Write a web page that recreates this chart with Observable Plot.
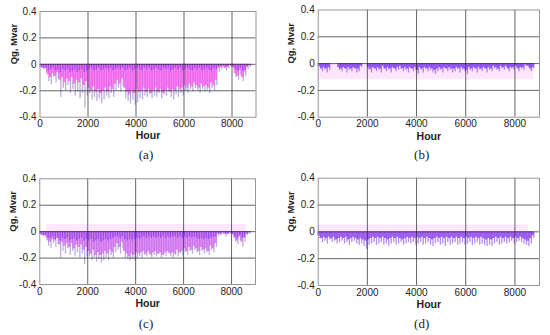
<!DOCTYPE html>
<html><head><meta charset="utf-8">
<script src="https://cdn.jsdelivr.net/npm/d3@7"></script>
<script src="https://cdn.jsdelivr.net/npm/@observablehq/plot@0.6"></script>
<style>
body{margin:0;background:#fff}
#wrap{position:relative;width:550px;height:335px;overflow:hidden;background:#fff}
.panel{position:absolute}
.cap{position:absolute;font-family:"Liberation Serif","DejaVu Serif",serif;font-size:13px;color:#222;transform:translate(-50%,-50%);white-space:nowrap}
</style></head><body><div id="wrap"></div>
<script>
// ---- tick labels / categories ----
const hourTicks = [0, 2000, 4000, 6000, 8000];
const qTicks = [-0.4, -0.2, 0, 0.2, 0.4];
const panelLabels = ["(a)", "(b)", "(c)", "(d)"];
const xLabel = "Hour";
const yLabel = "Qg, Mvar";

// ---- series values: Qg (Mvar) per 100-hour block ----
const A_deep = [-0.03,-0.04,-0.06,-0.13,-0.15,-0.10,-0.14,-0.11,-0.25,-0.18,
 -0.20,-0.16,-0.22,-0.19,-0.24,-0.21,-0.26,-0.22,-0.33,-0.24,
 -0.22,-0.27,-0.25,-0.28,-0.26,-0.30,-0.27,-0.24,-0.26,-0.22,
 -0.25,-0.20,-0.18,-0.21,-0.17,-0.26,-0.28,-0.30,-0.27,-0.31,
 -0.29,-0.26,-0.27,-0.24,-0.25,-0.23,-0.26,-0.24,-0.25,-0.22,
 -0.26,-0.23,-0.24,-0.21,-0.25,-0.27,-0.23,-0.25,-0.22,-0.24,
 -0.20,-0.22,-0.19,-0.21,-0.18,-0.20,-0.22,-0.19,-0.21,-0.20,
 -0.22,-0.18,-0.20,-0.16,-0.06,-0.04,-0.03,-0.05,-0.03,-0.02,
 -0.03,-0.10,-0.12,-0.08,-0.13,-0.09,-0.04,-0.02];
const A_body = [-0.02,-0.03,-0.03,-0.08,-0.10,-0.07,-0.09,-0.06,
 -0.12,-0.10,-0.14,-0.11,-0.13,-0.10,-0.15,-0.12,-0.14,-0.11,-0.16,-0.13,
 -0.18,-0.20,-0.17,-0.21,-0.19,-0.22,-0.20,-0.18,-0.21,-0.17,-0.19,-0.15,
 -0.12,-0.15,-0.11,
 -0.18,-0.21,-0.23,-0.20,-0.22,-0.19,-0.21,-0.20,-0.18,-0.21,-0.19,-0.22,-0.20,-0.18,-0.21,-0.19,-0.22,-0.20,-0.18,-0.21,-0.19,-0.20,-0.17,-0.19,-0.18,
 -0.16,-0.18,-0.15,-0.17,-0.14,-0.16,-0.18,-0.15,-0.17,-0.16,-0.18,-0.14,-0.16,-0.12,
 -0.03,-0.02,-0.02,-0.03,-0.02,-0.01,-0.02,
 -0.07,-0.09,-0.05,-0.10,-0.06,-0.02,-0.01];
const A_top = [-0.02,-0.03,-0.03,-0.05,-0.04,-0.03,-0.05,-0.04,-0.06,-0.04,
 -0.05,-0.04,-0.06,-0.05,-0.04,-0.06,-0.05,-0.04,-0.06,-0.05,
 -0.04,-0.03,-0.05,-0.04,-0.03,-0.05,-0.04,-0.03,-0.04,-0.03,
 -0.05,-0.04,-0.03,-0.04,-0.03,-0.05,-0.04,-0.03,-0.05,-0.04,
 -0.03,-0.04,-0.05,-0.03,-0.04,-0.03,-0.05,-0.04,-0.03,-0.04,
 -0.05,-0.03,-0.04,-0.03,-0.05,-0.04,-0.03,-0.04,-0.03,-0.05,
 -0.04,-0.03,-0.04,-0.05,-0.03,-0.04,-0.03,-0.05,-0.04,-0.03,
 -0.04,-0.05,-0.03,-0.04,-0.02,-0.02,-0.01,-0.02,-0.02,-0.01,
 -0.02,-0.04,-0.05,-0.03,-0.05,-0.04,-0.02,-0.01];

const B_deep = [-0.03,-0.06,-0.05,-0.07,-0.05,0,0,0,-0.05,-0.06,
 -0.04,-0.07,-0.05,-0.06,-0.04,-0.07,-0.06,-0.03,0,0,
 -0.05,-0.07,-0.04,-0.06,-0.05,-0.07,-0.04,-0.06,-0.05,-0.07,
 -0.04,-0.06,-0.05,-0.04,-0.06,-0.05,-0.07,-0.04,-0.06,-0.05,
 -0.08,-0.05,-0.07,-0.04,-0.06,-0.05,-0.07,-0.08,-0.06,-0.05,
 -0.07,-0.04,-0.06,-0.05,-0.07,-0.06,-0.04,-0.07,-0.05,-0.06,
 -0.08,-0.05,-0.06,-0.04,-0.07,-0.05,-0.06,-0.04,-0.07,-0.05,
 -0.06,-0.04,-0.05,-0.06,-0.04,-0.05,-0.03,-0.06,-0.04,-0.05,
 -0.03,-0.06,-0.04,-0.05,-0.02,-0.03,-0.06,-0.04];
const B_body = [-0.02,-0.04,-0.03,-0.04,-0.03,0,0,0,
 -0.03,-0.04,-0.03,-0.04,-0.03,-0.04,-0.03,-0.04,-0.04,-0.02,0,0,
 -0.03,-0.04,-0.03,-0.04,-0.03,-0.04,-0.02,-0.04,-0.03,-0.04,
 -0.03,-0.04,-0.03,-0.02,-0.04,-0.03,-0.04,-0.03,-0.04,-0.03,
 -0.05,-0.03,-0.04,-0.03,-0.04,-0.03,-0.04,-0.05,-0.04,-0.03,
 -0.04,-0.03,-0.04,-0.03,-0.04,-0.04,-0.03,-0.04,-0.03,-0.04,
 -0.05,-0.03,-0.04,-0.03,-0.04,-0.03,-0.04,-0.03,-0.04,-0.03,
 -0.04,-0.02,-0.03,-0.04,-0.02,-0.03,-0.02,-0.04,-0.03,-0.03,
 -0.02,-0.04,-0.03,-0.03,-0.01,-0.02,-0.04,-0.03];

const C_deep = [-0.03,-0.04,-0.05,-0.11,-0.13,-0.09,-0.12,-0.10,-0.20,-0.15,
 -0.17,-0.13,-0.18,-0.15,-0.19,-0.16,-0.20,-0.17,-0.25,-0.19,
 -0.19,-0.22,-0.20,-0.23,-0.21,-0.24,-0.22,-0.20,-0.22,-0.18,
 -0.20,-0.16,-0.14,-0.17,-0.13,-0.20,-0.21,-0.22,-0.21,-0.22,
 -0.21,-0.19,-0.20,-0.18,-0.19,-0.17,-0.20,-0.18,-0.19,-0.17,
 -0.20,-0.18,-0.19,-0.16,-0.19,-0.20,-0.18,-0.19,-0.17,-0.19,
 -0.16,-0.18,-0.15,-0.17,-0.14,-0.16,-0.18,-0.15,-0.17,-0.16,
 -0.18,-0.14,-0.16,-0.12,-0.04,-0.03,-0.02,-0.04,-0.02,-0.02,
 -0.03,-0.08,-0.10,-0.07,-0.12,-0.08,-0.03,-0.02];
const C_body = [-0.02,-0.03,-0.03,-0.07,-0.08,-0.06,-0.07,-0.05,
 -0.10,-0.08,-0.11,-0.09,-0.12,-0.09,-0.13,-0.10,-0.12,-0.10,-0.14,-0.12,
 -0.15,-0.17,-0.14,-0.18,-0.16,-0.18,-0.17,-0.15,-0.17,-0.14,-0.16,-0.12,
 -0.09,-0.12,-0.08,
 -0.15,-0.17,-0.19,-0.17,-0.18,-0.16,-0.17,-0.16,-0.15,-0.17,-0.15,-0.18,-0.16,-0.15,-0.17,-0.16,-0.18,-0.16,-0.15,-0.17,-0.16,-0.17,-0.14,-0.16,-0.15,
 -0.13,-0.15,-0.12,-0.14,-0.11,-0.13,-0.15,-0.12,-0.14,-0.13,-0.15,-0.11,-0.13,-0.09,
 -0.02,-0.02,-0.01,-0.02,-0.02,-0.01,-0.02,
 -0.05,-0.07,-0.04,-0.08,-0.05,-0.02,-0.01];
const C_top = [-0.02,-0.03,-0.03,-0.05,-0.05,-0.04,-0.06,-0.05,-0.07,-0.05,
 -0.06,-0.05,-0.07,-0.06,-0.05,-0.07,-0.06,-0.05,-0.07,-0.06,
 -0.07,-0.06,-0.08,-0.07,-0.06,-0.08,-0.07,-0.06,-0.07,-0.06,
 -0.05,-0.04,-0.04,-0.05,-0.04,-0.06,-0.07,-0.06,-0.07,-0.06,
 -0.05,-0.06,-0.05,-0.04,-0.05,-0.04,-0.05,-0.04,-0.05,-0.04,
 -0.05,-0.04,-0.05,-0.04,-0.05,-0.04,-0.04,-0.05,-0.04,-0.05,
 -0.04,-0.05,-0.04,-0.05,-0.04,-0.05,-0.06,-0.05,-0.06,-0.05,
 -0.06,-0.05,-0.04,-0.04,-0.02,-0.02,-0.01,-0.02,-0.02,-0.01,
 -0.02,-0.04,-0.05,-0.03,-0.05,-0.04,-0.02,-0.01];

const D_deep = [-0.05,-0.08,-0.07,-0.09,-0.06,-0.08,-0.07,-0.09,-0.08,-0.07,
 -0.09,-0.08,-0.10,-0.08,-0.07,-0.09,-0.10,-0.09,-0.11,-0.13,
 -0.10,-0.09,-0.08,-0.10,-0.09,-0.08,-0.10,-0.09,-0.11,-0.09,
 -0.08,-0.10,-0.09,-0.08,-0.10,-0.09,-0.08,-0.09,-0.08,-0.10,
 -0.09,-0.08,-0.10,-0.09,-0.08,-0.10,-0.11,-0.09,-0.08,-0.10,
 -0.09,-0.11,-0.08,-0.10,-0.09,-0.08,-0.10,-0.09,-0.08,-0.10,
 -0.09,-0.08,-0.10,-0.09,-0.08,-0.10,-0.09,-0.10,-0.11,-0.10,
 -0.11,-0.09,-0.08,-0.10,-0.09,-0.08,-0.09,-0.08,-0.07,-0.09,
 -0.08,-0.07,-0.08,-0.09,-0.10,-0.11,-0.09,-0.05];
const D_body = [-0.03,-0.05,-0.04,-0.05,-0.04,-0.05,-0.04,-0.06,-0.05,-0.04,
 -0.05,-0.04,-0.06,-0.05,-0.04,-0.05,-0.06,-0.05,-0.06,-0.07,
 -0.06,-0.05,-0.04,-0.05,-0.04,-0.05,-0.04,-0.05,-0.06,-0.05,
 -0.04,-0.05,-0.04,-0.05,-0.06,-0.05,-0.04,-0.05,-0.04,-0.05,
 -0.04,-0.05,-0.04,-0.05,-0.04,-0.05,-0.06,-0.05,-0.04,-0.05,
 -0.04,-0.05,-0.04,-0.05,-0.04,-0.05,-0.04,-0.05,-0.04,-0.05,
 -0.04,-0.05,-0.04,-0.05,-0.04,-0.05,-0.04,-0.05,-0.06,-0.05,
 -0.06,-0.05,-0.04,-0.05,-0.04,-0.05,-0.04,-0.05,-0.04,-0.05,
 -0.04,-0.05,-0.04,-0.05,-0.06,-0.07,-0.05,-0.03];

// faint pink haze bands seen in the picture: [hourStart, hourEnd, qLow, qHigh]
const B_haze = [0, 8760, -0.12, 0];
const C_haze = [300, 8600, 0, 0.055];
const D_haze = [0, 8550, 0, 0.05];

const blockHours = 100;
const rows = (arr, offset) => arr.map((v, i) => ({h: i * blockHours + offset, v}));

const wrap = document.getElementById("wrap");

function panel(cfg) {
  const {left, top, width, height, frame, layers, haze, cap, capPos, yDx, xDy} = cfg;
  const marks = [];
  if (haze) {
    marks.push(Plot.rect([haze], {x1: d => d[0], x2: d => d[1], y1: d => d[2], y2: d => d[3], fill: "#ffc8ff", fillOpacity: 0.45}));
  }
  for (const L of layers) {
    marks.push(Plot.ruleX(rows(L.data, L.offset), {x: "h", y1: 0, y2: "v", stroke: L.color, strokeWidth: L.w, strokeOpacity: L.op}));
  }
  marks.push(Plot.gridX(hourTicks.filter(d => d > 0), {stroke: "#2a2a2a", strokeOpacity: 0.9, strokeWidth: 0.8}));
  marks.push(Plot.gridY(qTicks.filter(d => Math.abs(d) < 0.39), {stroke: "#2a2a2a", strokeOpacity: 0.9, strokeWidth: 0.8}));
  marks.push(Plot.frame({stroke: "#8a8a8a", strokeWidth: 0.9}));
  marks.push(Plot.axisX(hourTicks, {tickSize: 0, tickPadding: 3, tickFormat: d => String(d), label: null, fontSize: 10}));
  marks.push(Plot.axisY(qTicks, {tickSize: 0, tickPadding: 3.5, tickFormat: d => String(d), label: null, fontSize: 10}));
  marks.push(Plot.text([xLabel], {text: d => d, frameAnchor: "bottom", dy: xDy, fontWeight: "bold", fontSize: 10.5, lineAnchor: "middle"}));
  marks.push(Plot.text([yLabel], {text: d => d, frameAnchor: "left", dx: yDx, rotate: -90, fontWeight: "bold", fontSize: 9.5, lineAnchor: "middle"}));
  const svg = Plot.plot({
    width, height,
    marginLeft: frame.l - left, marginRight: left + width - frame.r,
    marginTop: frame.t - top, marginBottom: top + height - frame.b,
    x: {domain: [0, 9000]},
    y: {domain: [-0.4, 0.4]},
    style: {fontFamily: "'Liberation Sans', Arial, sans-serif", fontSize: "10px", color: "#222", background: "transparent", overflow: "visible"},
    marks
  });
  const div = document.createElement("div");
  div.className = "panel";
  div.style.left = left + "px";
  div.style.top = top + "px";
  div.appendChild(svg);
  wrap.appendChild(div);
  const c = document.createElement("div");
  c.className = "cap";
  c.textContent = cap;
  c.style.left = capPos[0] + "px";
  c.style.top = capPos[1] + "px";
  wrap.appendChild(c);
}

panel({left: 0, top: 0, width: 275, height: 150, frame: {l: 39.5, r: 255.5, t: 11, b: 116.7},
  layers: [
    {data: A_deep, offset: 70, color: "#a48ed4", w: 1.3, op: 0.75},
    {data: A_body, offset: 20, color: "#ff3cf0", w: 2.4, op: 0.65},
    {data: A_top, offset: 45, color: "#8c3cf0", w: 1.4, op: 0.75}
  ], cap: panelLabels[0], capPos: [146, 155], yDx: -26.5, xDy: 18.3});

panel({left: 275, top: 0, width: 275, height: 150, frame: {l: 317.7, r: 539, t: 9.5, b: 116.7},
  layers: [
    {data: B_deep, offset: 70, color: "#9a66f0", w: 1.3, op: 0.8},
    {data: B_body, offset: 20, color: "#7a35f0", w: 2.2, op: 0.8}
  ], haze: B_haze, cap: panelLabels[1], capPos: [421.7, 155], yDx: -27.7, xDy: 19.3});

panel({left: 0, top: 165, width: 275, height: 150, frame: {l: 39.3, r: 255, t: 178.3, b: 284},
  layers: [
    {data: C_deep, offset: 70, color: "#a890d8", w: 1.3, op: 0.75},
    {data: C_body, offset: 20, color: "#d048f0", w: 2.4, op: 0.6},
    {data: C_top, offset: 45, color: "#8a3cf0", w: 1.4, op: 0.75}
  ], haze: C_haze, cap: panelLabels[2], capPos: [146, 324], yDx: -26.5, xDy: 18.7});

panel({left: 275, top: 165, width: 275, height: 150, frame: {l: 317.7, r: 539, t: 177.7, b: 285},
  layers: [
    {data: D_deep, offset: 70, color: "#a070e8", w: 1.3, op: 0.8},
    {data: D_body, offset: 20, color: "#9040f0", w: 2.4, op: 0.8}
  ], haze: D_haze, cap: panelLabels[3], capPos: [421.7, 324], yDx: -27.7, xDy: 19});
</script></body></html>
